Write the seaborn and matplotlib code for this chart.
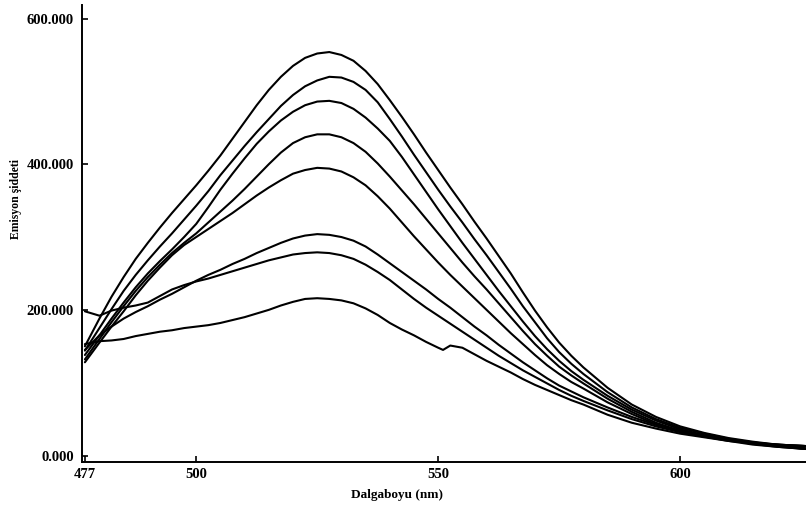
import numpy as np
import pandas as pd
import seaborn as sns
from matplotlib import pyplot as plt
from matplotlib.ticker import StrMethodFormatter

# wavelength grid (nm) shared by the first seven spectra
wl = [477, 480, 482.5, 485, 487.5, 490, 492.5, 495, 497.5, 500, 502.5, 505, 507.5,
      510, 512.5, 515, 517.5, 520, 522.5, 525, 527.5, 530, 532.5, 535, 537.5, 540,
      542.5, 545, 547.5, 550, 552.5, 555, 557.5, 560, 562.5, 565, 567.5, 570, 572.5,
      575, 577.5, 580, 585, 590, 595, 600, 605, 610, 615, 620, 626]

c1 = [150, 188, 218, 245, 270, 292, 313, 333, 352, 371, 391, 412, 435,
      458, 481, 502, 520, 535, 546, 552, 554, 550, 542, 528, 510, 488,
      465, 441, 416, 392, 368, 345, 321, 298, 274, 250, 224, 199, 176,
      155, 137, 121, 93, 70, 53, 40, 31, 24, 19, 15, 10]
c2 = [144, 175, 201, 226, 248, 268, 287, 305, 324, 343, 363, 385, 405,
      425, 444, 462, 480, 495, 507, 515, 520, 519, 513, 502, 485, 462,
      438, 413, 389, 365, 342, 320, 297, 275, 252, 229, 205, 183, 161,
      142, 126, 112, 87, 66, 50, 38, 30, 23, 18, 14, 9]
c3 = [138, 165, 188, 210, 231, 250, 267, 283, 300, 318, 341, 365, 387,
      408, 428, 445, 460, 472, 481, 486, 487, 484, 476, 464, 449, 432,
      410, 386, 362, 338, 315, 292, 270, 248, 226, 205, 184, 164, 146,
      130, 116, 104, 82, 63, 48, 36, 28, 22, 17, 13, 9]
c4 = [132, 160, 183, 205, 226, 245, 262, 278, 292, 305, 320, 335, 350,
      366, 383, 400, 416, 429, 437, 441, 441, 437, 429, 417, 401, 383,
      364, 345, 325, 305, 285, 265, 246, 228, 209, 190, 171, 153, 137,
      122, 110, 99, 78, 60, 45, 34, 27, 21, 16, 12, 9]
c5 = [128, 155, 177, 198, 220, 240, 258, 275, 289, 300, 311, 322, 333,
      345, 357, 368, 378, 387, 392, 395, 394, 390, 382, 371, 356, 339,
      320, 301, 283, 265, 248, 232, 216, 200, 184, 168, 153, 138, 124,
      112, 101, 92, 73, 57, 43, 33, 26, 20, 15, 12, 9]
c6 = [145, 165, 177, 188, 197, 205, 214, 222, 231, 240, 248, 255, 263,
      270, 278, 285, 292, 298, 302, 304, 303, 300, 295, 287, 276, 264,
      252, 240, 228, 215, 203, 190, 177, 165, 152, 140, 128, 117, 106,
      96, 88, 80, 66, 53, 42, 34, 27, 22, 18, 15, 13]
c7 = [198, 192, 199, 203, 206, 210, 219, 228, 234, 239, 243, 248, 253,
      258, 263, 268, 272, 276, 278, 279, 278, 275, 270, 262, 252, 241,
      228, 215, 203, 192, 181, 170, 159, 148, 137, 127, 117, 108, 99,
      90, 82, 75, 62, 50, 40, 32, 26, 21, 17, 15, 13]

# lowest spectrum has a small notch near 551 nm
wl8 = [477, 480, 482.5, 485, 487.5, 490, 492.5, 495, 497.5, 500, 502.5, 505, 507.5,
       510, 512.5, 515, 517.5, 520, 522.5, 525, 527.5, 530, 532.5, 535, 537.5, 540,
       542.5, 545, 547.5, 550, 551, 552.5, 555, 557.5, 560, 562.5, 565, 567.5, 570,
       572.5, 575, 577.5, 580, 585, 590, 595, 600, 605, 610, 615, 620, 626]
c8 = [153, 157, 158, 160, 164, 167, 170, 172, 175, 177, 179, 182, 186,
      190, 195, 200, 206, 211, 215, 216, 215, 213, 209, 202, 193, 182,
      173, 165, 156, 148, 145, 151, 148, 139, 130, 122, 114, 105, 97,
      90, 83, 76, 70, 56, 45, 37, 30, 25, 20, 17, 15, 13]

xticks = [477, 500, 550, 600]
yticks = [0, 200, 400, 600]

frames = []
for i, ys in enumerate([c1, c2, c3, c4, c5, c6, c7]):
    frames.append(pd.DataFrame({'wl': wl, 'val': ys, 'curve': i}))
frames.append(pd.DataFrame({'wl': wl8, 'val': c8, 'curve': 7}))
df = pd.concat(frames, ignore_index=True)

sns.set_theme(style="ticks")
plt.rcParams['font.family'] = ['Liberation Serif', 'DejaVu Serif']
plt.rcParams['font.weight'] = 'bold'

fig = plt.figure(figsize=(8.06, 5.13), dpi=100)
ax = fig.add_axes([82 / 806, 51 / 513, 724 / 806, 457 / 513])

sns.lineplot(data=df, x='wl', y='val', units='curve', estimator=None,
             color='black', linewidth=1.5, ax=ax, legend=False)

ax.set_xlim(476.4, 626)
ax.set_ylim(-8.9, 618.6)
ax.set_xticks(xticks)
ax.set_yticks(yticks)
ax.yaxis.set_major_formatter(StrMethodFormatter('{x:.3f}'))
ax.tick_params(axis='both', direction='in', length=4, width=1.2,
               labelsize=10.5, colors='black')
ax.tick_params(axis='y', pad=6)
ax.tick_params(axis='x', pad=4)
for lab in ax.get_xticklabels() + ax.get_yticklabels():
    lab.set_fontweight('bold')

sns.despine(ax=ax)
for s in ['left', 'bottom']:
    ax.spines[s].set_linewidth(1.4)
    ax.spines[s].set_color('black')

ax.set_xlabel('Dalgaboyu (nm)', fontsize=9.5, fontweight='bold', color='black')
ax.xaxis.set_label_coords(0.435, -0.06)
ax.set_ylabel('Emisyon şiddeti', fontsize=8.5, fontweight='bold', color='black')
ax.yaxis.set_label_coords(-0.083, 0.575)

fig.savefig('out.png', dpi=100)
